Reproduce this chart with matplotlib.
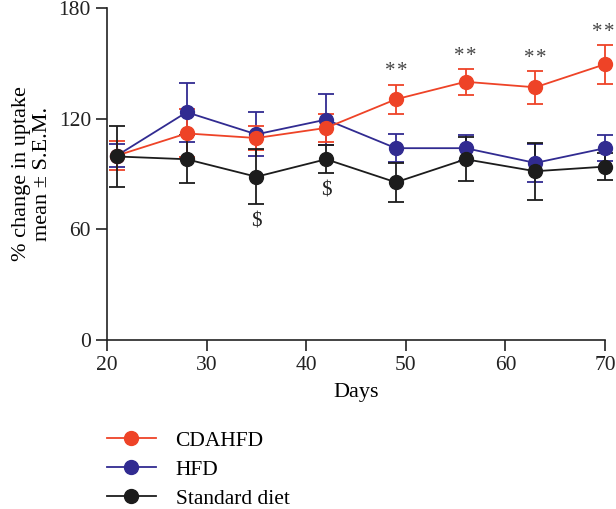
import matplotlib
matplotlib.use("Agg")
import matplotlib.pyplot as plt
from matplotlib.lines import Line2D

days = [21, 28, 35, 42, 49, 56, 63, 70]

cdahfd_mean = [100, 112, 109.5, 115, 130.5, 140, 137, 149.5]
cdahfd_sem = [8, 13, 6.5, 7.5, 8, 7, 9, 10.5]

hfd_mean = [100, 123.5, 111.5, 119.5, 104, 104, 96, 104]
hfd_sem = [6, 16, 12, 14, 7.5, 7, 10.5, 7]

std_mean = [99.5, 98, 88.5, 98, 85.5, 98, 91.5, 94]
std_sem = [16.5, 13, 15, 7.5, 10.5, 12, 15.5, 7.5]

star_days = [49, 56, 63, 70]
star_y = [145.5, 153.5, 152.5, 166.5]
dollar_days = [35, 42]
dollar_y = [64, 81]

x_ticks = [20, 30, 40, 50, 60, 70]
y_ticks = [0, 60, 120, 180]

red = "#ee4327"
blue = "#312b91"
black = "#1c1c1c"

plt.rcParams["font.family"] = ["Liberation Serif", "DejaVu Serif"]

fig = plt.figure(figsize=(6.16, 5.09), dpi=100)
ax = fig.add_axes([107 / 616, 1 - 340 / 509, 498 / 616, 332 / 509])

series = [("HFD", hfd_mean, hfd_sem, blue),
          ("CDAHFD", cdahfd_mean, cdahfd_sem, red),
          ("Standard diet", std_mean, std_sem, black)]
for label, mean, sem, color in series:
    ax.errorbar(days, mean, yerr=sem, color=color, marker="o",
                markersize=10, linewidth=1.3, elinewidth=1.3,
                capsize=6, capthick=1.3, clip_on=False)

# two stars per point, spaced like the original
for d, y in zip(star_days, star_y):
    shift = -1.5 if d == 70 else 0
    for dx in (-4.3, 4.3):
        ax.annotate("*", (d, y), xytext=(dx + shift, 0), textcoords="offset points",
                    ha="center", va="center", fontsize=15, color="#444444")
for d, y in zip(dollar_days, dollar_y):
    ax.text(d, y, "$", ha="center", va="center", fontsize=15, color="#222222")

ax.set_xlim(20, 70)
ax.set_ylim(0, 180)
ax.set_xticks(x_ticks)
ax.set_yticks(y_ticks)
ax.tick_params(direction="out", length=8, width=1.2, labelsize=15.5, colors="#222222")
ax.spines[["right", "top"]].set_visible(False)
for s in ["left", "bottom"]:
    ax.spines[s].set_linewidth(1.2)
    ax.spines[s].set_color("#222222")

ax.set_xlabel("Days", fontsize=16, labelpad=6)
ax.set_ylabel("% change in uptake\nmean \u00b1 S.E.M.", fontsize=16, labelpad=5,
              linespacing=1.15)

order = ["CDAHFD", "HFD", "Standard diet"]
cmap = {s[0]: s[3] for s in series}
handles = [Line2D([], [], color=cmap[k], marker="o", markersize=10, linewidth=1.3)
           for k in order]
fig.legend(handles, order, loc="upper left",
           bbox_to_anchor=(98 / 616, 1 - 422 / 509), frameon=False,
           fontsize=15.5, handlelength=2.3, labelspacing=0.42, handletextpad=0.9,
           borderaxespad=0)

fig.savefig("out.png", dpi=100)
